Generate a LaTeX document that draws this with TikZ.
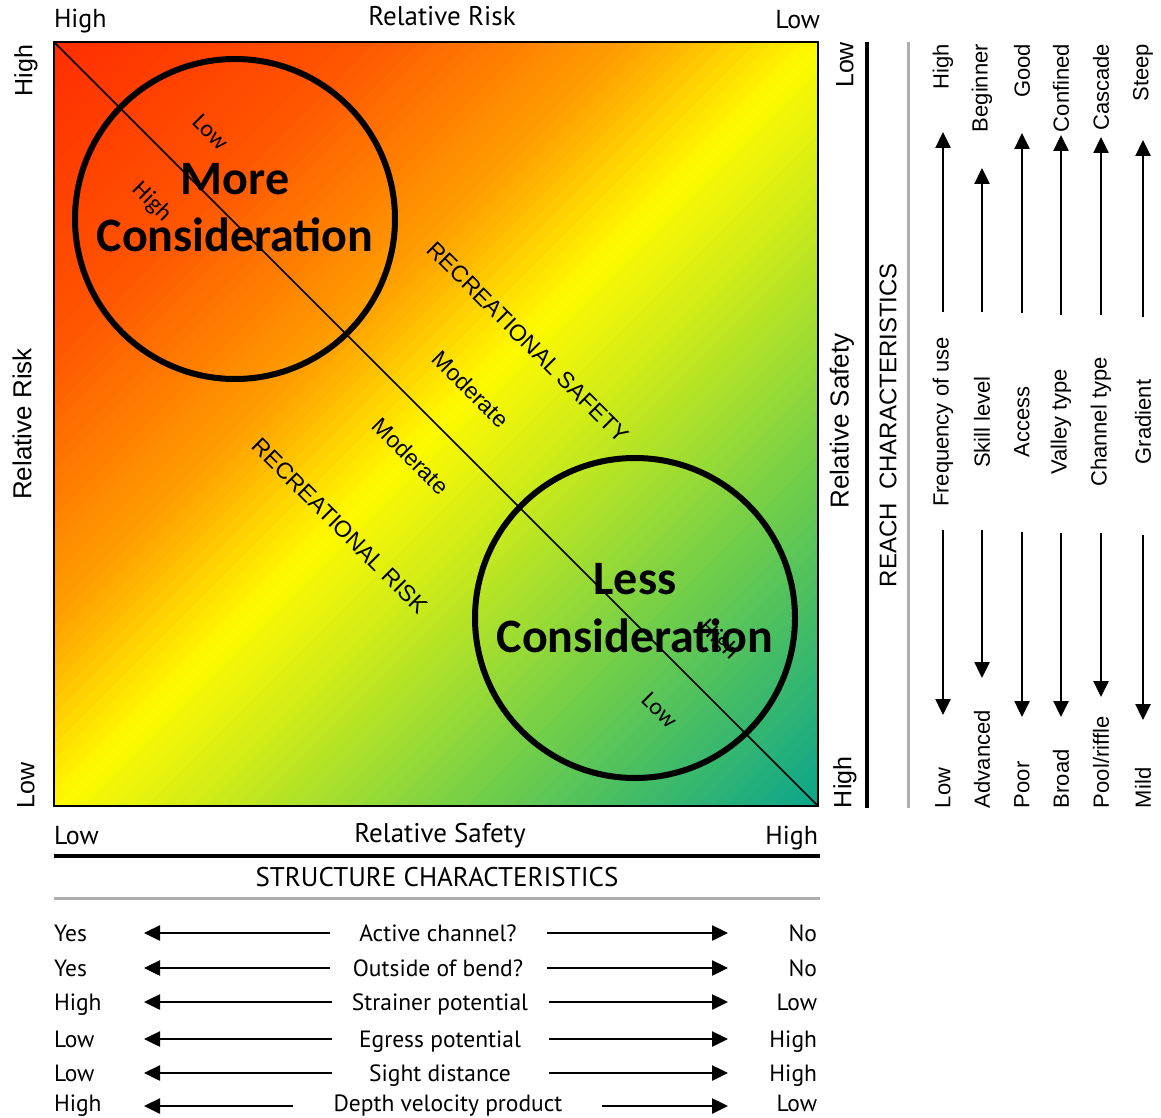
\documentclass[tikz,border=0pt]{standalone}
\usepackage{fontspec}
\setmainfont{Liberation Sans}
\newfontfamily\fgfont{PT Sans}
\newfontfamily\calfont{Carlito}
\usetikzlibrary{arrows.meta}
\definecolor{g0}{RGB}{255,45,0}
\definecolor{g1}{RGB}{255,85,0}
\definecolor{g2}{RGB}{255,160,0}
\definecolor{g3}{RGB}{255,250,0}
\definecolor{g4}{RGB}{205,235,25}
\definecolor{g5}{RGB}{110,205,75}
\definecolor{g6}{RGB}{10,165,140}
\definecolor{rulegray}{RGB}{175,175,175}
\begin{document}
\begin{tikzpicture}[x=1pt,y=-1pt,
  txt/.style={inner sep=0pt, outer sep=0pt},
  ar/.style={txt, font=\fontsize{22}{26}\selectfont},
  arc/.style={txt, font=\fontsize{25}{29}\selectfont},
  arr/.style={txt, font=\fontsize{26}{30}\selectfont},
  diag/.style={txt, font=\fontsize{23}{27}\selectfont, rotate=-45},
  fg/.style={txt, font=\fgfont\fontsize{27}{31}\selectfont},
  fgc/.style={txt, font=\fgfont\fontsize{26}{30}\selectfont},
  fgs/.style={txt, font=\fgfont\fontsize{23.5}{27}\selectfont},
  cbig/.style={txt, font=\calfont\bfseries\fontsize{48}{56}\selectfont},
  csmall/.style={txt, font=\calfont\fontsize{24}{28}\selectfont, rotate=-45},
  ring/.style={circle, draw=black, line width=6pt, minimum size=320pt, inner sep=0pt},
  harrow/.style={line width=2.5pt, -{Triangle[length=16pt,width=15pt]}},
  varrow/.style={line width=2.5pt, -{Triangle[length=16pt,width=15pt]}},
]
\useasboundingbox (0,0) rectangle (1161,1118);

% gradient field
\begin{scope}
\clip (54,42) rectangle (818,806);
\begin{scope}[shift={(54,42)}]
\foreach \sa/\sb/\ka/\kb in {0/20/g0/g1,20/38/g1/g2,38/50/g2/g3,50/60/g3/g4,60/78/g4/g5,78/100/g5/g6}{
  \pgfmathtruncatemacro\slast{\sb-1}
  \foreach \i in {\sa,...,\slast}{
    \pgfmathtruncatemacro\pc{(\i+0.5-\sa)/(\sb-\sa)*100}
    \pgfmathsetmacro\lo{15.28*\i}
    \pgfmathsetmacro\hi{15.28*(\i+1)+1.5}
    \fill[fill=\kb!\pc!\ka] (-800,\lo+800) -- (1600,\lo-1600) -- (1600,\hi-1600) -- (-800,\hi+800) -- cycle;
  }
}
\end{scope}
\end{scope}

\coordinate (tl) at (54,42);
\coordinate (br) at (818,806);
\draw[line width=2pt] (tl) rectangle (br);
\draw[line width=1.6pt] (tl) -- (br);

% circles
\node[ring] (ringA) at (235,219) {};
\node[ring] (ringB) at (635,618) {};
\node[cbig, anchor=base] (moreA) at (235,194) {More};
\node[cbig, anchor=base] (moreB) at (235,251) {Consideration};
\node[cbig, anchor=base] (lessA) at (635,594) {Less};
\node[cbig, anchor=base] (lessB) at (635,652) {Consideration};
\node[csmall] (lowA) at (211,132) {Low};
\node[csmall] (highA) at (152,202) {High};
\node[csmall] (highB) at (719,640) {High};
\node[csmall] (lowB) at (660,710) {Low};

% diagonal labels
\node[diag] (rsafe) at (528,342) {RECREATIONAL SAFETY};
\node[diag] (rrisk) at (340,526) {RECREATIONAL RISK};
\node[diag] (modA) at (471,389) {Moderate};
\node[diag] (modB) at (411,456) {Moderate};

% top axis labels
\node[fgc, anchor=base west] (tHigh) at (54,28) {High};
\node[fg, anchor=base] (tRisk) at (442,26) {Relative Risk};
\node[fgc, anchor=base east] (tLow) at (820,29) {Low};

% left axis labels
\node[arc, rotate=90, anchor=east] (lHigh) at (26,45) {High};
\node[arr, rotate=90] (lRisk) at (22,424) {Relative Risk};
\node[arc, rotate=90, anchor=west] (lLow) at (26,808) {Low};

% right axis labels
\node[arc, rotate=90, anchor=east] (rLow) at (845,42) {Low};
\node[arr, rotate=90] (rSafe) at (842,421) {Relative Safety};
\node[arc, rotate=90, anchor=west] (rHigh) at (845,808) {High};

% reach characteristics
\coordinate (rb1) at (867,42);
\coordinate (rb2) at (867,808);
\coordinate (rg1) at (908,42);
\coordinate (rg2) at (908,808);
\draw[line width=3.5pt] (rb1) -- (rb2);
\draw[line width=3pt, rulegray] (rg1) -- (rg2);
\node[arc, font=\fontsize{24}{28}\selectfont, rotate=90] (reach) at (888,425) {REACH\ \ CHARACTERISTICS};

\foreach \n/\x/\tt/\mm/\bb/\ua/\ub/\da/\db in {
  1/943/High/{Frequency of use}/Low/312/132/530/715,
  2/982/Beginner/{Skill level}/Advanced/312/168/530/678,
  3/1022/Good/Access/Poor/313/133/532/717,
  4/1061/Confined/{Valley type}/Broad/315/135/533/717,
  5/1101/Cascade/{Channel type}/{Pool/riffle}/315/137/533/697,
  6/1143/Steep/Gradient/Mild/317/140/535/720}{
  \node[ar, rotate=90, anchor=east] (top\n) at (\x,44) {\tt};
  \node[ar, rotate=90] (mid\n) at (\x,422) {\mm};
  \node[ar, rotate=90, anchor=west] (bot\n) at (\x,808) {\bb};
  \coordinate (ua\n) at (\x,\ua);
  \coordinate (ub\n) at (\x,\ub);
  \coordinate (da\n) at (\x,\da);
  \coordinate (db\n) at (\x,\db);
  \draw[varrow] (ua\n) -- (ub\n);
  \draw[varrow] (da\n) -- (db\n);
}

% bottom axis labels
\node[fgc, anchor=base west] (bLow) at (54,844) {Low};
\node[fg, anchor=base] (bSafe) at (440,842) {Relative Safety};
\node[fgc, anchor=base east] (bHigh) at (818,844) {High};
\coordinate (sb1) at (54,856);
\coordinate (sb2) at (820,856);
\coordinate (sg1) at (54,898);
\coordinate (sg2) at (820,898);
\draw[line width=3.5pt] (sb1) -- (sb2);
\draw[line width=3pt, rulegray] (sg1) -- (sg2);
\node[fg, anchor=base] (struct) at (437,886) {STRUCTURE CHARACTERISTICS};

\foreach \n/\y/\bl/\ll/\mm/\rr/\mx/\lt/\rt in {
  1/933/941/Yes/{Active channel?}/No/438/330/547,
  2/968/976/Yes/{Outside of bend?}/No/438/330/547,
  3/1002/1010/High/{Strainer potential}/Low/440/332/549,
  4/1039/1047/Low/{Egress potential}/High/440/332/549,
  5/1073/1081/Low/{Sight distance}/High/440/332/549,
  6/1106/1111/High/{Depth velocity product}/Low/448/293/602}{
  \node[fgs, anchor=base west] (sl\n) at (54,\bl) {\ll};
  \node[fgs, anchor=base] (sm\n) at (\mx,\bl) {\mm};
  \node[fgs, anchor=base east] (sr\n) at (817,\bl) {\rr};
  \coordinate (la\n) at (\lt,\y);
  \coordinate (lb\n) at (144,\y);
  \coordinate (ra\n) at (\rt,\y);
  \coordinate (rb\n) at (728,\y);
  \draw[harrow] (la\n) -- (lb\n);
  \draw[harrow] (ra\n) -- (rb\n);
}
\end{tikzpicture}
\end{document}
